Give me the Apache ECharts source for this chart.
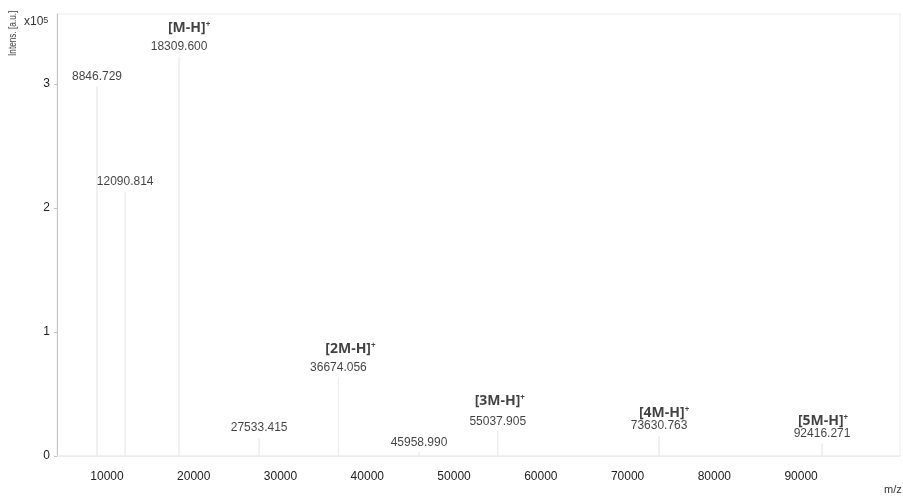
<!DOCTYPE html>
<html>
<head>
<meta charset="utf-8">
<script src="https://cdn.jsdelivr.net/npm/echarts@6/dist/echarts.min.js"></script>
<style>
  html, body { margin: 0; padding: 0; background: #ffffff; }
  #chart { width: 903px; height: 496px; }
</style>
</head>
<body>
<div id="chart"></div>
<script>
// Labelled peaks of the MALDI-TOF spectrum (m/z, intensity in a.u.)
const peakMz = [8846.729, 12090.814, 18309.600, 27533.415, 36674.056, 45958.990, 55037.905, 73630.763, 92416.271];
const peakIntensity = [298000, 213000, 322000, 14500, 63000, 3000, 20000, 16000, 10000];

// Ion assignments: index into the peak list and the ion name
const ionPeakIndex = [2, 4, 6, 7, 8];
const ionNames = ['M-H', '2M-H', '3M-H', '4M-H', '5M-H'];

// Axis ticks
const xTicks = [10000, 20000, 30000, 40000, 50000, 60000, 70000, 80000, 90000];
const yTicks = [0, 100000, 200000, 300000];

// Horizontal / vertical nudges for the ion labels (pixels)
const ionLabelOffsets = [[10, -18], [12, -18], [2, -19], [5, -12], [1, -12]];

const numFont = '"Liberation Sans", Arial, sans-serif';
const boldFont = '"Open Sans", "Noto Sans", sans-serif';

// Stick spectrum built from the peak list
const spectrum = [[4236, 0]];
peakMz.forEach((mz, i) => {
  spectrum.push([mz, 0], [mz, peakIntensity[i]], [mz, 0]);
});
spectrum.push([101400, 0]);

const peakPoints = peakMz.map((mz, i) => [mz, peakIntensity[i]]);

const ionPoints = ionPeakIndex.map((pi, k) => ({
  value: [peakMz[pi], peakIntensity[pi]],
  name: ionNames[k],
  label: { offset: ionLabelOffsets[k] }
}));

const chart = echarts.init(document.getElementById('chart'), null, { renderer: 'canvas' });

chart.setOption({
  animation: false,
  backgroundColor: '#ffffff',
  grid: {
    left: 57, right: 3, top: 14, bottom: 40,
    show: true, borderColor: '#ececec', borderWidth: 1, backgroundColor: 'transparent'
  },
  xAxis: {
    type: 'value',
    min: 4236,
    max: 101400,
    axisLine: { show: true, lineStyle: { color: '#eeeeee' } },
    axisTick: { show: false },
    splitLine: { show: false },
    axisLabel: {
      customValues: xTicks,
      color: '#222', fontFamily: numFont, fontSize: 12, margin: 15,
      formatter: v => String(v)
    }
  },
  yAxis: {
    type: 'value',
    min: 0,
    max: 356500,
    axisLine: { show: true, lineStyle: { color: '#c4c4c4' } },
    axisTick: { show: true, customValues: yTicks, length: 3, lineStyle: { color: '#c4c4c4' } },
    splitLine: { show: false },
    axisLabel: {
      customValues: yTicks,
      color: '#222', fontFamily: numFont, fontSize: 12, margin: 7,
      formatter: v => String(Math.round(v / 100000))
    }
  },
  graphic: [
    {
      type: 'text', x: 7, y: 56, rotation: Math.PI / 2, scaleX: 0.75,
      style: { text: 'Intens. [a.u.]', fill: '#444', font: '11px "Liberation Sans", sans-serif', textAlign: 'left', textVerticalAlign: 'top' }
    },
    {
      type: 'text', x: 24, y: 16,
      style: {
        text: '{a|x10}{s|5}',
        rich: {
          a: { fontSize: 12, fontFamily: numFont, fill: '#333' },
          s: { fontSize: 9, fontFamily: numFont, fill: '#333', verticalAlign: 'top' }
        }
      }
    },
    {
      type: 'text', x: 884, y: 484,
      style: { text: 'm/z', fill: '#333', font: '11px "Liberation Sans", sans-serif' }
    }
  ],
  series: [
    {
      type: 'line',
      data: spectrum,
      showSymbol: false,
      silent: true,
      lineStyle: { color: '#ececec', width: 1 },
      z: 1
    },
    {
      type: 'scatter',
      data: peakPoints,
      symbolSize: 0,
      silent: true,
      label: {
        show: true, position: 'top', distance: 4,
        color: '#111', fontFamily: numFont, fontSize: 12,
        formatter: p => p.value[0].toFixed(3)
      },
      z: 3
    },
    {
      type: 'scatter',
      data: ionPoints,
      symbolSize: 0,
      silent: true,
      label: {
        show: true, position: 'top', distance: 4,
        formatter: p => '{b|[' + p.name + ']}{s|+}',
        rich: {
          b: { fontFamily: boldFont, fontWeight: 'bold', fontSize: 14, color: '#111' },
          s: { fontFamily: boldFont, fontWeight: 'bold', fontSize: 8, color: '#111', verticalAlign: 'top' }
        }
      },
      z: 3
    }
  ]
});
</script>
</body>
</html>
